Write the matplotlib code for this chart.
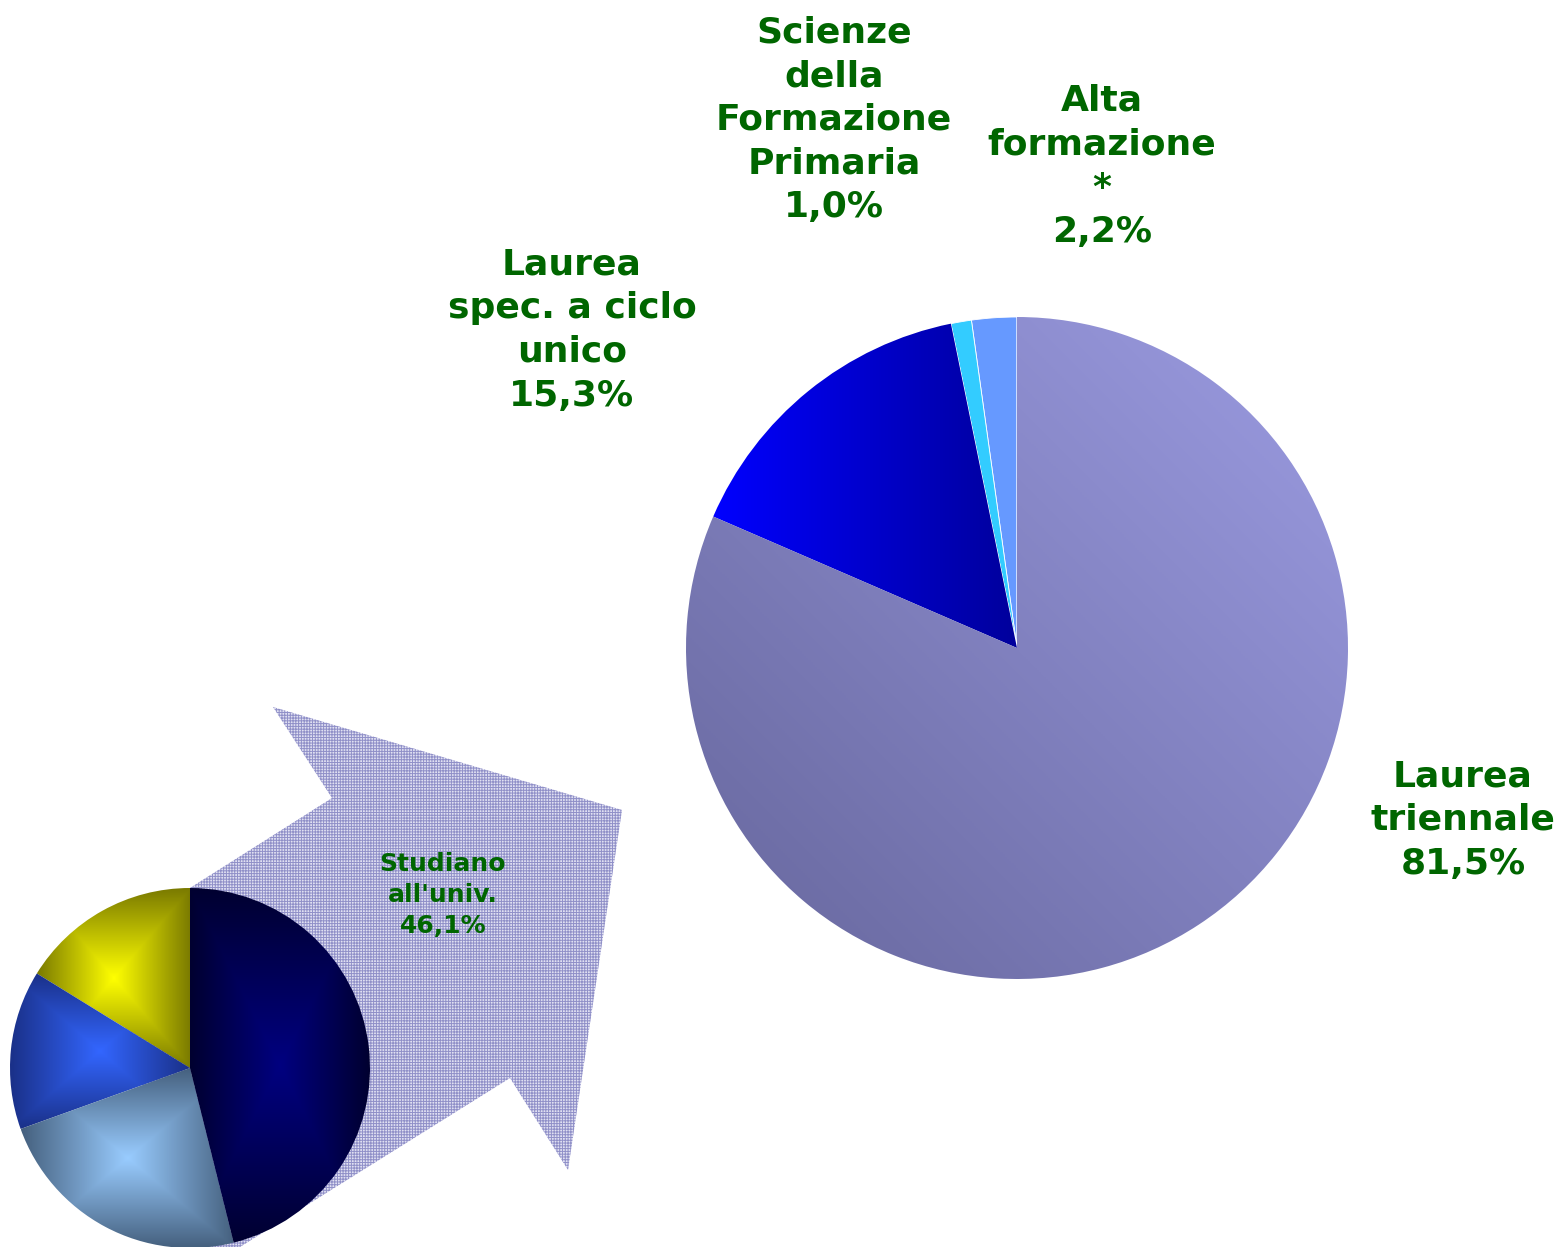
import numpy as np
import matplotlib
matplotlib.use("Agg")
import matplotlib.pyplot as plt
from matplotlib.colors import LinearSegmentedColormap
from matplotlib.patches import Polygon

plt.rcParams['font.family'] = ['DejaVu Sans']
plt.rcParams['hatch.linewidth'] = 0.7

# ---------------- data ----------------
big_labels = ["Alta\nformazione\n*", "Scienze\ndella\nFormazione\nPrimaria",
              "Laurea\nspec. a ciclo\nunico", "Laurea\ntriennale"]
big_values = [2.2, 1.0, 15.3, 81.5]
big_pct_text = ["2,2%", "1,0%", "15,3%", "81,5%"]

small_values = [16.2, 14.3, 23.4, 46.1]   # yellow, blue, light blue, navy (studiano all'univ.)
small_label = "Studiano\nall'univ.\n46,1%"

GREEN = "#006600"

W, H = 1559, 1247
fig = plt.figure(figsize=(W / 100, H / 100), dpi=100)
ax = fig.add_axes([0, 0, 1, 1])
ax.set_xlim(0, W)
ax.set_ylim(0, H)
ax.set_aspect('equal')
ax.axis('off')

def Y(py):
    return H - py

# ---------------- arrow (hatched) ----------------
arrow_px = [(273, 707), (332, 798), (100, 945), (200, 1272), (510, 1078),
            (568, 1170), (622, 810)]
arrow = Polygon([(x, Y(y)) for x, y in arrow_px], closed=True,
                facecolor="#E0E0F2", edgecolor="#9090C8", linewidth=0,
                hatch="++++++", zorder=1)
ax.add_patch(arrow)

# ---------------- gradient helper ----------------
def grad_fill(wedge, func, c_lo, c_hi, zorder):
    ext = wedge.get_path().get_extents()
    x0, y0, x1, y1 = ext.x0, ext.y0, ext.x1, ext.y1
    n = 300
    u = np.linspace(-1, 1, n)
    U, V = np.meshgrid(u, u)
    T = func(U, V)
    cmap = LinearSegmentedColormap.from_list("g", [c_lo, c_hi])
    im = ax.imshow(T, extent=(x0, x1, y0, y1), origin='lower', cmap=cmap,
                   vmin=0, vmax=1, interpolation='bilinear', zorder=zorder,
                   aspect='auto')
    im.set_clip_path(wedge)
    wedge.set_facecolor('none')

rect = lambda U, V: 1 - np.maximum(np.abs(U), np.abs(V))

# ---------------- small pie ----------------
small_c = [("#7A7A00", "#FFFF00"), ("#1A3088", "#3366FF"),
           ("#45607E", "#99CCFF"), ("#000030", "#000080")]
sw, _ = ax.pie(small_values, center=(190, Y(1068)), radius=180, startangle=90,
               counterclock=True, frame=True,
               wedgeprops=dict(edgecolor='none', linewidth=0, zorder=3))
for w, (lo, hi) in zip(sw, small_c):
    w.set_zorder(3)
    grad_fill(w, rect, lo, hi, 3)

# ---------------- big pie ----------------
bw, _ = ax.pie(big_values, center=(1017, Y(648)), radius=331, startangle=90,
               counterclock=True, frame=True,
               colors=["#6699FF", "#33CCFF", "#0000FF", "#9595DB"],
               wedgeprops=dict(edgecolor='white', linewidth=0.6, zorder=3))
# Laurea spec: horizontal gradient, bright left -> dark right
grad_fill(bw[2], lambda U, V: (1 - U) / 2, "#00009C", "#0000FF", 3)
# Laurea triennale: diagonal gradient, dark bottom-left -> light top-right
grad_fill(bw[3], lambda U, V: (U + V + 2) / 4, "#66669C", "#9C9CE2", 3)

ax.set_xlim(0, W)
ax.set_ylim(0, H)
ax.set_aspect('equal')
ax.axis('off')

# ---------------- labels ----------------
label_pos = [(1102, 166), (834, 120), (572, 330), (1463, 820)]
for lab, pct, (x, y) in zip(big_labels, big_pct_text, label_pos):
    ax.text(x, Y(y), lab + "\n" + pct, ha='center', va='center', fontsize=26,
            fontweight='bold', color=GREEN, linespacing=1.36, zorder=5)

ax.text(443, Y(895), small_label, ha='center', va='center', fontsize=18,
        fontweight='bold', color=GREEN, linespacing=1.36, zorder=5)

fig.savefig("out.png", dpi=100)
